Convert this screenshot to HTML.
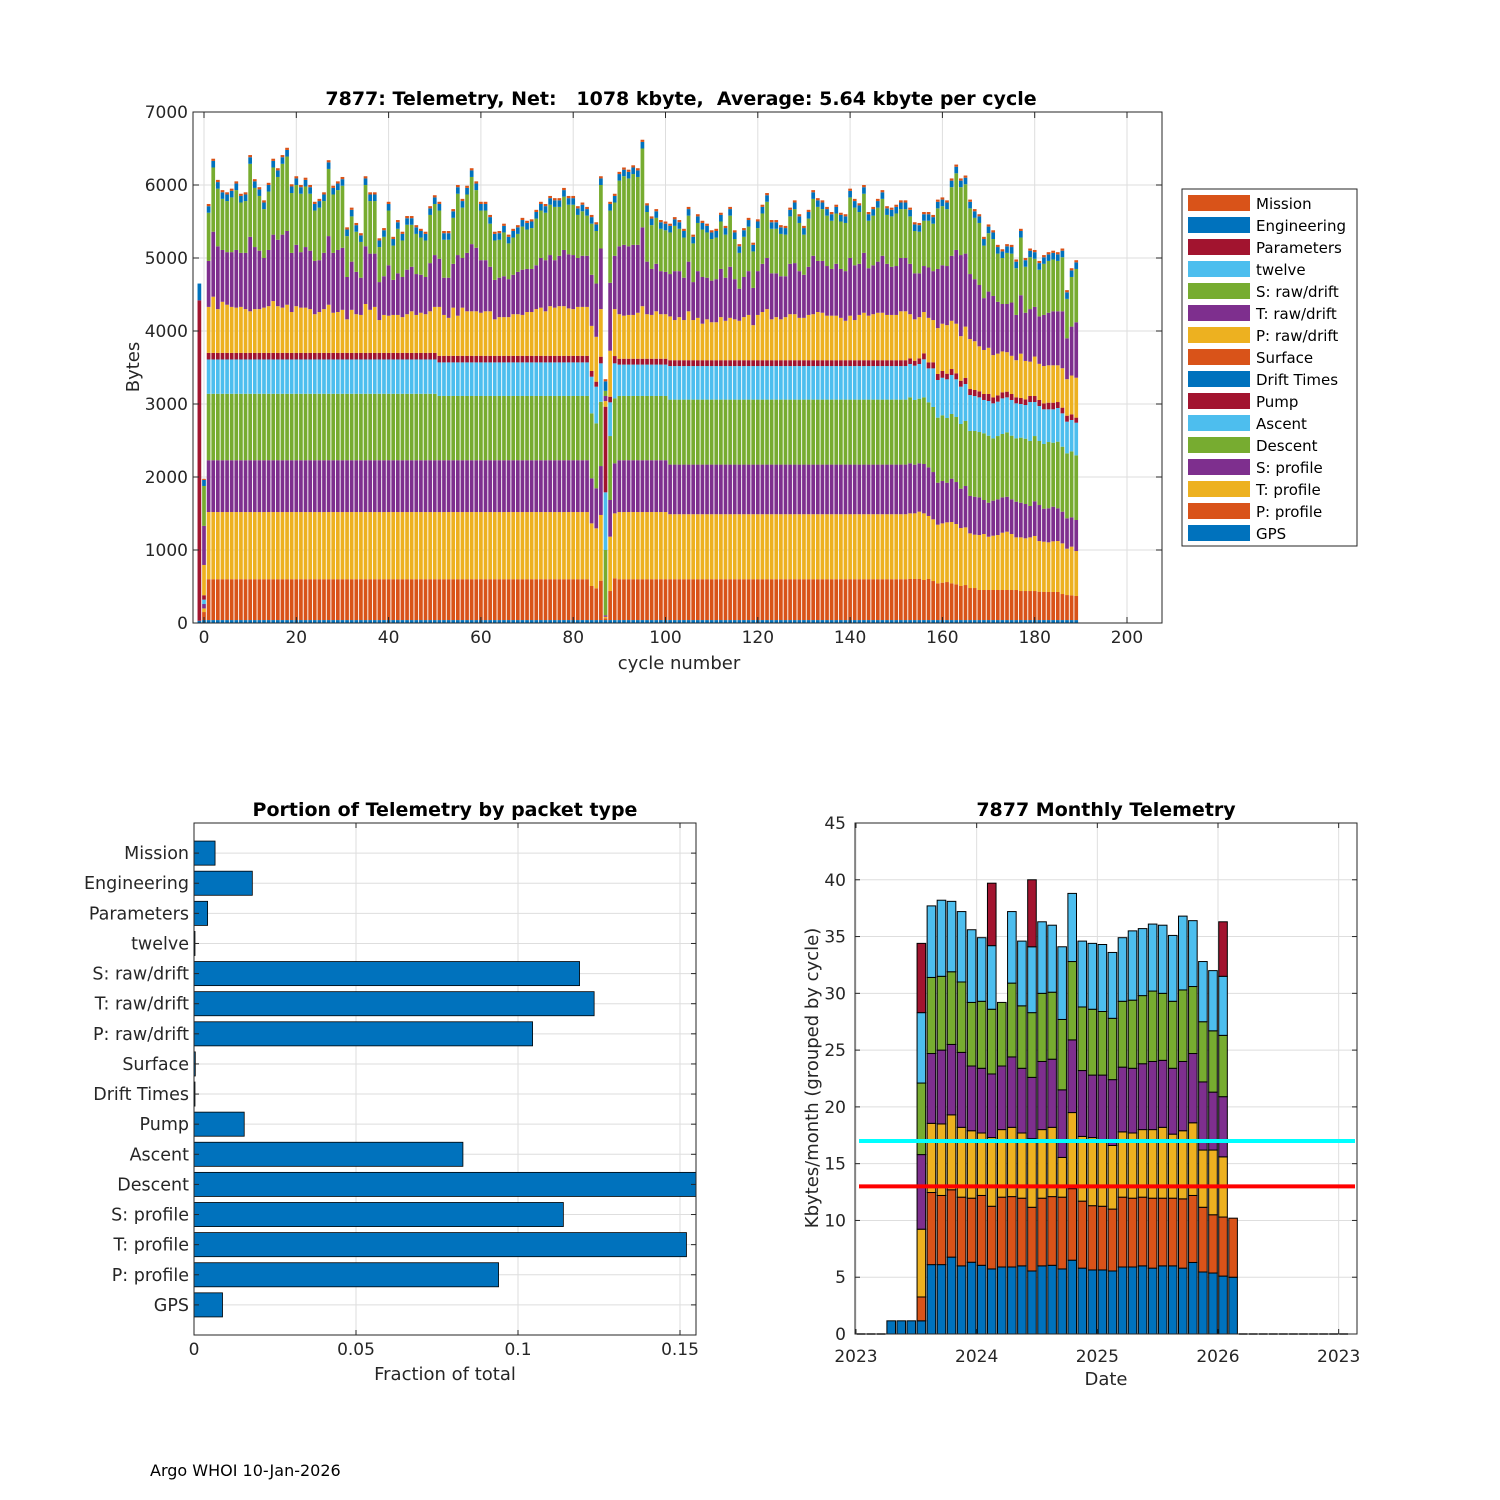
<!DOCTYPE html>
<html><head><meta charset="utf-8"><style>
html,body{margin:0;padding:0;background:#fff;}
svg{display:block;font-family:"DejaVu Sans","Liberation Sans",sans-serif;}
</style></head><body>
<svg id="fig" width="1500" height="1500" viewBox="0 0 1500 1500" xmlns="http://www.w3.org/2000/svg">
<rect width="1500" height="1500" fill="#fff"/>
<g id="top"></g><g id="bl"></g><g id="br"></g>
<text x="150" y="1476" font-size="16" fill="#000">Argo WHOI 10-Jan-2026</text>
</svg>
<script>
// ---------- TOP CHART DATA (cycles -1..189), cumulative stack levels in bytes ----------
const cycleStart = -1;
const totalBytes = [4650,1975,
5740,6360,6070,5930,5900,5950,6050,5880,5900,6410,
6080,5970,5790,6030,6360,6230,6410,6510,6010,6120,
6000,6100,6000,5770,5810,5900,6340,5990,6050,6110,
5420,5690,5480,5340,6120,5900,5900,5270,5410,5770,
5290,5520,5360,5575,5575,5450,5400,5360,5710,5860,
5770,5370,5370,5670,6000,5810,5990,6230,6050,5770,
5770,5590,5360,5370,5470,5320,5400,5450,5550,5510,
5530,5660,5770,5740,5850,5820,5820,5960,5850,5850,
5710,5760,5700,5590,5490,6120,3340,5770,5880,6180,
6240,6210,6270,6230,6620,5750,5570,5670,5520,5500,
5470,5560,5520,5400,5700,5320,5600,5510,5470,5380,
5400,5620,5440,5700,5380,5190,5410,5550,5210,5530,
5730,5890,5520,5520,5450,5440,5690,5790,5600,5440,
5660,5930,5820,5790,5700,5630,5730,5620,5600,5950,
5810,5750,6000,5630,5700,5810,5930,5710,5690,5730,
5790,5790,5690,5490,5480,5630,5630,5590,5800,5830,
5790,6090,6280,6090,6130,5800,5670,5600,5290,5460,
5380,5180,5120,5190,5180,4980,5400,5000,5130,5110,
4960,5040,5080,5100,5080,5130,4560,4860,4970];
const tRawTop = [4420,1330,
4960,5360,5160,5110,5080,5080,5110,5070,5070,5290,
5150,5100,5000,5110,5320,5250,5320,5370,5070,5180,
5080,5150,5100,4960,4970,5070,5300,5070,5110,5140,
4740,4950,4810,4730,5160,5060,5060,4670,4750,4900,
4700,4790,4740,4840,4880,4780,4770,4740,4930,5040,
4990,4730,4730,4920,5040,5000,5070,5190,5140,4970,
4970,4880,4700,4730,4750,4710,4770,4810,4840,4850,
4850,4900,5000,4970,5040,4970,5030,5110,5050,5040,
5000,5030,5030,4770,4650,5130,3110,4660,5030,5160,
5180,5160,5180,5180,5420,4950,4850,4920,4820,4810,
4780,4820,4820,4730,4950,4670,4820,4740,4730,4690,
4710,4850,4730,4880,4710,4580,4740,4820,4590,4820,
4920,5000,4790,4790,4750,4750,4920,4930,4820,4770,
4880,5030,4960,4960,4890,4850,4920,4850,4820,5000,
4900,4920,5070,4860,4900,4950,5030,4920,4880,4890,
5000,5000,4920,4790,4790,4890,4870,4820,4850,4900,
4890,5030,5110,5040,5060,4780,4710,4630,4450,4540,
4480,4400,4370,4370,4390,4220,4490,4250,4300,4330,
4200,4220,4250,4270,4270,4270,3900,4060,4120];
const pRawTop = [4420,795,
4330,4470,4300,4400,4360,4330,4320,4330,4300,4270,
4300,4300,4320,4340,4410,4340,4320,4360,4260,4340,
4320,4320,4300,4230,4260,4300,4360,4250,4260,4290,
4160,4290,4230,4220,4370,4290,4330,4150,4220,4210,
4220,4220,4190,4230,4270,4220,4250,4230,4270,4330,
4330,4220,4180,4320,4210,4320,4270,4270,4270,4250,
4270,4270,4160,4190,4190,4190,4230,4230,4220,4260,
4260,4300,4320,4270,4340,4320,4340,4340,4310,4300,
4330,4330,4330,4070,3920,4300,3040,3730,4300,4230,
4210,4220,4220,4250,4340,4230,4220,4270,4230,4230,
4200,4150,4190,4150,4270,4150,4180,4100,4160,4120,
4120,4190,4140,4180,4160,4140,4190,4220,4080,4220,
4260,4300,4160,4190,4160,4190,4230,4230,4180,4180,
4220,4230,4260,4250,4210,4210,4210,4180,4140,4210,
4150,4220,4250,4210,4230,4250,4250,4220,4220,4220,
4270,4270,4230,4160,4190,4260,4180,4150,4040,4100,
4080,4140,4100,3930,4060,3890,3860,3790,3740,3770,
3670,3690,3720,3710,3660,3600,3690,3590,3580,3650,
3550,3520,3530,3530,3530,3490,3340,3390,3360];
const pumpTop = [4420,380,
3700,3700,3700,3700,3700,3700,3700,3700,3700,3700,
3700,3700,3700,3700,3700,3700,3700,3700,3700,3700,
3700,3700,3700,3700,3700,3700,3700,3700,3700,3700,
3700,3700,3700,3700,3700,3700,3700,3700,3700,3700,
3700,3700,3700,3700,3700,3700,3700,3700,3700,3700,
3660,3660,3660,3660,3660,3660,3660,3660,3660,3660,
3660,3660,3660,3660,3660,3660,3660,3660,3660,3660,
3660,3660,3660,3660,3660,3660,3660,3660,3660,3660,
3660,3660,3660,3452,3306,3648,2963,3100,3657,3620,
3620,3620,3620,3620,3620,3620,3620,3620,3620,3620,
3600,3600,3600,3600,3600,3600,3600,3600,3600,3600,
3600,3600,3600,3600,3600,3600,3600,3600,3600,3600,
3600,3600,3600,3600,3600,3600,3600,3600,3600,3600,
3600,3600,3600,3600,3600,3600,3600,3600,3600,3600,
3600,3600,3600,3600,3600,3600,3600,3600,3600,3600,
3600,3600,3625,3593,3625,3694,3571,3571,3411,3452,
3415,3479,3420,3319,3356,3205,3192,3173,3137,3137,
3091,3118,3160,3169,3137,3091,3082,3064,3110,3110,
3055,3009,3018,3018,3027,2950,2840,2858,2813];
const ascentTop = [30,320,
3610,3610,3610,3610,3610,3610,3610,3610,3610,3610,
3610,3610,3610,3610,3610,3610,3610,3610,3610,3610,
3610,3610,3610,3610,3610,3610,3610,3610,3610,3610,
3610,3610,3610,3610,3610,3610,3610,3610,3610,3610,
3610,3610,3610,3610,3610,3610,3610,3610,3610,3610,
3570,3570,3570,3570,3570,3570,3570,3570,3570,3570,
3570,3570,3570,3570,3570,3570,3570,3570,3570,3570,
3570,3570,3570,3570,3570,3570,3570,3570,3570,3570,
3570,3570,3570,3374,3237,3557,1790,3023,3557,3540,
3540,3540,3540,3540,3540,3540,3540,3540,3540,3540,
3520,3520,3520,3520,3520,3520,3520,3520,3520,3520,
3520,3520,3520,3520,3520,3520,3520,3520,3520,3520,
3520,3520,3520,3520,3520,3520,3520,3520,3520,3520,
3520,3520,3520,3520,3520,3520,3520,3520,3520,3520,
3520,3520,3520,3520,3520,3520,3520,3520,3520,3520,
3520,3520,3548,3525,3548,3612,3488,3488,3329,3360,
3338,3397,3338,3237,3274,3123,3109,3091,3055,3041,
3009,3032,3077,3091,3055,3009,3000,2986,3027,3027,
2972,2927,2927,2927,2945,2872,2758,2781,2744];
const descentTop = [30,260,
3140,3140,3140,3140,3140,3140,3140,3140,3140,3140,
3140,3140,3140,3140,3140,3140,3140,3140,3140,3140,
3140,3140,3140,3140,3140,3140,3140,3140,3140,3140,
3140,3140,3140,3140,3140,3140,3140,3140,3140,3140,
3140,3140,3140,3140,3140,3140,3140,3140,3140,3140,
3110,3110,3110,3110,3110,3110,3110,3110,3110,3110,
3110,3110,3110,3110,3110,3110,3110,3110,3110,3110,
3110,3110,3110,3110,3110,3110,3110,3110,3110,3110,
3110,3110,3110,2872,2735,3030,1000,2561,3077,3110,
3110,3110,3110,3110,3110,3110,3110,3110,3110,3110,
3060,3060,3060,3060,3060,3060,3060,3060,3060,3060,
3060,3060,3060,3060,3060,3060,3060,3060,3060,3060,
3060,3060,3060,3060,3060,3060,3060,3060,3060,3060,
3060,3060,3060,3060,3060,3060,3060,3060,3060,3060,
3060,3060,3060,3060,3060,3060,3060,3060,3060,3060,
3060,3060,3091,3055,3073,3091,3023,2959,2813,2845,
2808,2863,2822,2726,2767,2630,2630,2616,2598,2566,
2529,2561,2589,2612,2566,2529,2539,2525,2493,2561,
2493,2452,2479,2470,2484,2415,2324,2351,2297];
const sProfileTop = [30,260,
2230,2230,2230,2230,2230,2230,2230,2230,2230,2230,
2230,2230,2230,2230,2230,2230,2230,2230,2230,2230,
2230,2230,2230,2230,2230,2230,2230,2230,2230,2230,
2230,2230,2230,2230,2230,2230,2230,2230,2230,2230,
2230,2230,2230,2230,2230,2230,2230,2230,2230,2230,
2230,2230,2230,2230,2230,2230,2230,2230,2230,2230,
2230,2230,2230,2230,2230,2230,2230,2230,2230,2230,
2230,2230,2230,2230,2230,2230,2230,2230,2230,2230,
2230,2230,2230,1982,1845,2150,105,1685,2187,2230,
2230,2230,2230,2230,2230,2230,2230,2230,2230,2230,
2170,2170,2170,2170,2170,2170,2170,2170,2170,2170,
2170,2170,2170,2170,2170,2170,2170,2170,2170,2170,
2170,2170,2170,2170,2170,2170,2170,2170,2170,2170,
2170,2170,2170,2170,2170,2170,2170,2170,2170,2170,
2170,2170,2170,2170,2170,2170,2170,2170,2170,2170,
2170,2170,2187,2169,2187,2178,2132,2068,1922,1945,
1922,1977,1931,1840,1877,1740,1730,1721,1685,1648,
1676,1694,1721,1730,1694,1662,1648,1630,1603,1667,
1616,1566,1571,1593,1571,1525,1434,1447,1411];
const tProfileTop = [30,200,
1520,1520,1520,1520,1520,1520,1520,1520,1520,1520,
1520,1520,1520,1520,1520,1520,1520,1520,1520,1520,
1520,1520,1520,1520,1520,1520,1520,1520,1520,1520,
1520,1520,1520,1520,1520,1520,1520,1520,1520,1520,
1520,1520,1520,1520,1520,1520,1520,1520,1520,1520,
1520,1520,1520,1520,1520,1520,1520,1520,1520,1520,
1520,1520,1520,1520,1520,1520,1520,1520,1520,1520,
1520,1520,1520,1520,1520,1520,1520,1520,1520,1520,
1520,1520,1520,1365,1297,1480,85,1183,1502,1520,
1520,1520,1520,1520,1520,1520,1520,1520,1520,1520,
1490,1490,1490,1490,1490,1490,1490,1490,1490,1490,
1490,1490,1490,1490,1490,1490,1490,1490,1490,1490,
1490,1490,1490,1490,1490,1490,1490,1490,1490,1490,
1490,1490,1490,1490,1490,1490,1490,1490,1490,1490,
1490,1490,1490,1490,1490,1490,1490,1490,1490,1490,
1490,1490,1502,1502,1525,1502,1466,1420,1347,1365,
1379,1383,1356,1301,1310,1228,1210,1205,1219,1182,
1196,1205,1237,1251,1219,1173,1173,1160,1173,1192,
1123,1114,1105,1119,1123,1091,1018,1046,986];
const pProfileTop = [30,150,
600,600,600,600,600,600,600,600,600,600,
600,600,600,600,600,600,600,600,600,600,
600,600,600,600,600,600,600,600,600,600,
600,600,600,600,600,600,600,600,600,600,
600,600,600,600,600,600,600,600,600,600,
600,600,600,600,600,600,600,600,600,600,
600,600,600,600,600,600,600,600,600,600,
600,600,600,600,600,600,600,600,600,600,
600,600,600,507,475,580,65,438,612,600,
600,600,600,600,600,600,600,600,600,600,
600,600,600,600,600,600,600,600,600,600,
600,600,600,600,600,600,600,600,600,600,
600,600,600,600,600,600,600,600,600,600,
600,600,600,600,600,600,600,600,600,600,
600,600,600,600,600,600,600,600,600,600,
600,600,603,603,603,589,603,575,543,552,
561,543,529,507,520,479,479,452,452,452,
452,452,452,452,452,452,438,438,438,438,
429,425,425,425,425,397,383,379,370];
const gpsBytes = [30,40,40,40,40,40,40,40,40,40,40,40];
const engineeringBytes = [230,83,90,90,90,90,90,90,90,90,90,90];
const missionBytes = [0,15,30,30,30,30,30,30,30,30,30,30];
const engineeringDefault = 90, missionDefault = 30, gpsDefault = 40;
const engineeringOverrides = {87:130};
const yTicksTop = [0,1000,2000,3000,4000,5000,6000,7000];
const xTicksTop = [0,20,40,60,80,100,120,140,160,180,200];
const legendNames = ["Mission","Engineering","Parameters","twelve","S: raw/drift","T: raw/drift","P: raw/drift","Surface","Drift Times","Pump","Ascent","Descent","S: profile","T: profile","P: profile","GPS"];
const legendColors = ["#D95319","#0072BD","#A2142F","#4DBEEE","#77AC30","#7E2F8E","#EDB120","#D95319","#0072BD","#A2142F","#4DBEEE","#77AC30","#7E2F8E","#EDB120","#D95319","#0072BD"];

// ---------- BOTTOM-LEFT DATA ----------
const packetTypes = ["Mission","Engineering","Parameters","twelve","S: raw/drift","T: raw/drift","P: raw/drift","Surface","Drift Times","Pump","Ascent","Descent","S: profile","T: profile","P: profile","GPS"];
const packetFractions = [0.0065,0.018,0.0042,0.0003,0.119,0.1235,0.1045,0.0004,0.0003,0.0155,0.083,0.165,0.114,0.152,0.094,0.0088];
const fracTicks = [0,0.05,0.1,0.15];
const fracTickLabels = ["0","0.05","0.1","0.15"];

// ---------- BOTTOM-RIGHT DATA (month index from Jan 2023), cumulative Kbytes ----------
const monthIndex = [3,4,5,6,7,8,9,10,11,12,13,14,15,16,17,18,19,20,21,22,23,24,25,26,27,28,29,30,31,32,33,34,35,36,37];
const lvlBlue   = [1.16,1.16,1.16,1.16,6.11,6.11,6.77,6.0,6.32,6.05,5.73,5.9,5.9,6.0,5.55,6.0,6.05,5.73,6.5,5.8,5.64,5.64,5.55,5.9,5.9,6.0,5.8,6.0,6.0,5.8,6.3,5.46,5.37,5.1,5.0];
const lvlOrange = [1.16,1.16,1.16,3.26,12.46,12.2,12.7,12.05,11.96,12.2,11.25,12.05,12.1,11.96,11.16,11.96,12.1,12.05,12.8,11.7,11.3,11.25,11.0,12.05,11.96,12.05,11.96,11.96,11.96,11.9,12.2,11.16,10.5,10.3,10.2];
const lvlYellow = [1.16,1.16,1.16,9.23,18.55,18.5,19.3,18.2,17.9,17.7,17.3,18.0,18.2,17.7,17.2,18.0,18.2,15.55,19.5,17.4,17.3,17.1,16.6,17.8,17.7,18.0,18.0,18.2,17.6,17.9,18.6,16.2,16.2,15.6,10.2];
const lvlPurple = [1.16,1.16,1.16,15.8,24.7,25.0,25.5,24.8,23.6,23.4,22.9,23.6,24.4,23.4,22.6,24.0,24.2,21.5,25.9,23.2,22.8,22.8,22.4,23.5,23.4,23.8,24.0,24.1,23.4,24.0,24.7,22.2,21.3,20.9,10.2];
const lvlGreen  = [1.16,1.16,1.16,22.1,31.4,31.5,31.9,31.0,29.2,29.3,28.6,29.2,30.9,28.9,28.3,30.0,30.1,27.7,32.8,28.8,28.6,28.4,27.8,29.3,29.4,29.8,30.2,30.0,29.3,30.3,30.6,27.5,26.7,26.3,10.2];
const lvlLight  = [1.16,1.16,1.16,28.3,37.7,38.2,38.1,37.2,35.6,34.9,34.2,29.2,37.2,34.6,34.1,36.3,36.0,34.1,38.8,34.6,34.4,34.3,33.6,34.9,35.5,35.7,36.1,36.0,35.1,36.8,36.4,32.8,32.0,31.5,10.2];
const lvlRed    = [1.16,1.16,1.16,34.4,37.7,38.2,38.1,37.2,35.6,34.9,39.7,29.2,37.2,34.6,40.0,36.3,36.0,34.1,38.8,34.6,34.4,34.3,33.6,34.9,35.5,35.7,36.1,36.0,35.1,36.8,36.4,32.8,32.0,36.3,10.2];
const zeroMonths = [0,1,2,38,39,40,41,42,43,44,45,46,47,48];
const monthColors = ["#0072BD","#D95319","#EDB120","#7E2F8E","#77AC30","#4DBEEE","#A2142F"];
const monthYTicks = [0,5,10,15,20,25,30,35,40,45];
const monthXTickMonths = [0,12,24,36,48];
const monthXTickLabels = ["2023","2024","2025","2026","2023"];
const refLines = [17,13];
const refLineColors = ["#00FFFF","#FF0000"];

const NS="http://www.w3.org/2000/svg";
function mk(tag,attrs,parent){const e=document.createElementNS(NS,tag);for(const k in attrs)e.setAttribute(k,attrs[k]);parent.appendChild(e);return e;}
function txt(parent,x,y,s,attrs){const t=mk('text',Object.assign({x:x,y:y,'font-size':17,fill:'#262626'},attrs||{}),parent);t.textContent=s;return t;}

// ================= TOP CHART =================
(function(){
const g=document.getElementById('top');
const L=193,R=1162,T=112,B=623;
const xs=c=>204+(c)*(1127-204)/200;
const ys=v=>B-v*(B-T)/7000;
const grid=mk('g',{},g);


yTicksTop.forEach(v=>{mk('line',{x1:L,x2:R,y1:ys(v),y2:ys(v),stroke:'#dedede','stroke-width':1},grid);});
xTicksTop.forEach(v=>{mk('line',{x1:xs(v),x2:xs(v),y1:T,y2:B,stroke:'#dedede','stroke-width':1},grid);});
const bars=mk('g',{},g);


const colsBottomUp=["#0072BD","#D95319","#EDB120","#7E2F8E","#77AC30","#4DBEEE","#A2142F","#EDB120","#7E2F8E","#77AC30","#0072BD","#D95319"];
const bw=3.7;
for(let i=0;i<totalBytes.length;i++){
  const c=cycleStart+i;
  const tot=totalBytes[i];
  const gps=(gpsBytes[i]!==undefined?gpsBytes[i]:gpsDefault);
  const eng=(engineeringBytes[i]!==undefined?engineeringBytes[i]:(engineeringOverrides[c]||engineeringDefault));
  const mis=(missionBytes[i]!==undefined?missionBytes[i]:missionDefault);
  const lv=[gps,pProfileTop[i],tProfileTop[i],sProfileTop[i],descentTop[i],ascentTop[i],pumpTop[i],pRawTop[i],tRawTop[i],tot-eng-mis,tot-mis,tot];
  let prev=0;
  const bg=mk('g',{},bars);
  
  
  for(let k=0;k<lv.length;k++){
    let top=Math.max(prev,lv[k]===undefined?prev:lv[k]);
    if(top>prev){mk('rect',{x:xs(c)-bw/2,y:ys(top),width:bw,height:ys(prev)-ys(top),fill:colsBottomUp[k]},bg);}
    prev=top;
  }
}
mk('rect',{x:L,y:T,width:R-L,height:B-T,fill:'none',stroke:'#262626','stroke-width':1},g);
yTicksTop.forEach(v=>{const y=ys(v);mk('line',{x1:L,x2:L+6,y1:y,y2:y,stroke:'#262626'},g);mk('line',{x1:R,x2:R-6,y1:y,y2:y,stroke:'#262626'},g);
 const t=txt(g,188,y+6,String(v),{'text-anchor':'end'});});
xTicksTop.forEach(v=>{const x=xs(v);mk('line',{x1:x,x2:x,y1:B,y2:B-6,stroke:'#262626'},g);mk('line',{x1:x,x2:x,y1:T,y2:T+6,stroke:'#262626'},g);
 const t=txt(g,x,643,String(v),{'text-anchor':'middle'});});
const tt=txt(g,681,105,'7877: Telemetry, Net:   1078 kbyte,  Average: 5.64 kbyte per cycle',{'text-anchor':'middle','font-weight':'bold','font-size':19,fill:'#000'});
tt.style.whiteSpace='pre';
const xl=txt(g,679,669,'cycle number',{'text-anchor':'middle','font-size':18});
const yl=txt(g,0,0,'Bytes',{'text-anchor':'middle','font-size':18,transform:'translate(139,367) rotate(-90)'});
const lg=mk('g',{},g);


mk('rect',{x:1182,y:189,width:175,height:357,fill:'#fff',stroke:'#262626','stroke-width':1},lg);
legendNames.forEach((n,k)=>{const y=203+k*22;
 const e=mk('g',{},lg);
 
 
 mk('rect',{x:1188,y:y-8,width:62,height:16,fill:legendColors[k]},e);
 txt(e,1256,y+6,n,{'font-size':15,fill:'#000'});});
})();

// ================= BOTTOM LEFT =================
(function(){
const g=document.getElementById('bl');
const L=194,R=696,T=823,B=1335;
const xs=v=>L+v*(680-194)/0.15;
const ys=k=>B-k*(B-T)/17;
const n=packetTypes.length;
for(let k=1;k<=n;k++)mk('line',{x1:L,x2:R,y1:ys(k),y2:ys(k),stroke:'#dedede'},g);
fracTicks.forEach(v=>mk('line',{x1:xs(v),x2:xs(v),y1:T,y2:B,stroke:'#dedede'},g));
const cp=mk('clipPath',{id:'blclip'},g);mk('rect',{x:L,y:T,width:R-L,height:B-T},cp);
const bars=mk('g',{'clip-path':'url(#blclip)'},g);


packetTypes.forEach((p,i)=>{const k=n-i;const h=(B-T)/17*0.8;
 const r=mk('rect',{x:xs(0),y:ys(k)-h/2,width:Math.max(0,xs(packetFractions[i])-xs(0)),height:h,fill:'#0072BD',stroke:'#000','stroke-width':0.8},bars);
 
 
 const t=txt(g,189,ys(k)+6,p,{'text-anchor':'end','font-size':17.5});
 
 
 mk('line',{x1:L,x2:L+5,y1:ys(k),y2:ys(k),stroke:'#262626'},g);mk('line',{x1:R,x2:R-5,y1:ys(k),y2:ys(k),stroke:'#262626'},g);});
mk('rect',{x:L,y:T,width:R-L,height:B-T,fill:'none',stroke:'#262626'},g);
fracTicks.forEach((v,i)=>{const x=xs(v);mk('line',{x1:x,x2:x,y1:B,y2:B-5,stroke:'#262626'},g);mk('line',{x1:x,x2:x,y1:T,y2:T+5,stroke:'#262626'},g);
 const t=txt(g,x,1355,fracTickLabels[i],{'text-anchor':'middle','font-size':17});});
const ti=txt(g,445,816,'Portion of Telemetry by packet type',{'text-anchor':'middle','font-weight':'bold','font-size':19,fill:'#000'});
const xl=txt(g,445,1380,'Fraction of total',{'text-anchor':'middle','font-size':18});
})();

// ================= BOTTOM RIGHT =================
(function(){
const g=document.getElementById('br');
const L=855,R=1357,T=823,B=1334;
const xs=m=>856+m*(1218-856)/36;
const ys=v=>B-v*(B-T)/45;
monthYTicks.forEach(v=>mk('line',{x1:L,x2:R,y1:ys(v),y2:ys(v),stroke:'#dedede'},g));
monthXTickMonths.forEach(m=>mk('line',{x1:xs(m),x2:xs(m),y1:T,y2:B,stroke:'#dedede'},g));
const bars=mk('g',{},g);


const bw=8.6;
const levels=[lvlBlue,lvlOrange,lvlYellow,lvlPurple,lvlGreen,lvlLight,lvlRed];
monthIndex.forEach((m,i)=>{const cx=xs(m+0.5);let prev=0;
 const bg=mk('g',{},bars);
 
 
 levels.forEach((arr,k)=>{const top=Math.max(prev,arr[i]);if(top>prev){mk('rect',{x:cx-bw/2,y:ys(top),width:bw,height:ys(prev)-ys(top),fill:monthColors[k],stroke:'#000','stroke-width':1},bg);}prev=top;});});
zeroMonths.forEach(m=>{const cx=xs(m+0.5);mk('line',{x1:cx-bw/2,x2:cx+bw/2,y1:B,y2:B,stroke:'#000','stroke-width':1.5},bars);});
refLines.forEach((v,k)=>{const l=mk('line',{x1:859,x2:1355,y1:ys(v),y2:ys(v),stroke:refLineColors[k],'stroke-width':4},g);
 
 });
mk('rect',{x:L,y:T,width:R-L,height:B-T,fill:'none',stroke:'#262626'},g);
monthYTicks.forEach(v=>{const y=ys(v);mk('line',{x1:L,x2:L+5,y1:y,y2:y,stroke:'#262626'},g);mk('line',{x1:R,x2:R-5,y1:y,y2:y,stroke:'#262626'},g);
 const t=txt(g,846,y+6,String(v),{'text-anchor':'end','font-size':17});});
monthXTickMonths.forEach((m,i)=>{const x=xs(m);mk('line',{x1:x,x2:x,y1:B,y2:B-5,stroke:'#262626'},g);mk('line',{x1:x,x2:x,y1:T,y2:T+5,stroke:'#262626'},g);
 const t=txt(g,x,1362,monthXTickLabels[i],{'text-anchor':'middle','font-size':17});});
const ti=txt(g,1106,816,'7877 Monthly Telemetry',{'text-anchor':'middle','font-weight':'bold','font-size':19,fill:'#000'});
const xl=txt(g,1106,1385,'Date',{'text-anchor':'middle','font-size':18});
const yl=txt(g,0,0,'Kbytes/month (grouped by cycle)',{'text-anchor':'middle','font-size':18,transform:'translate(818,1078) rotate(-90)'});
})();
</script>
</body></html>
